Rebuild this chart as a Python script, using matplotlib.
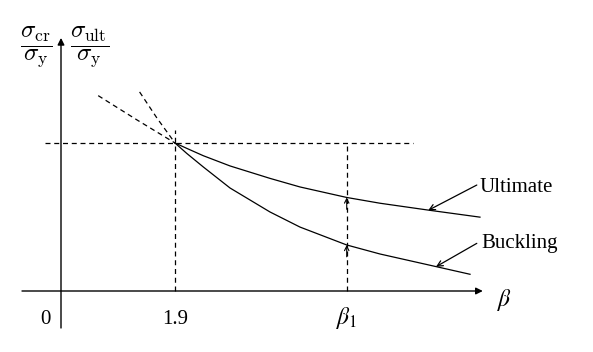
import matplotlib
matplotlib.use("Agg")
import matplotlib.pyplot as plt

# ---- data ----
beta_ultimate = [1.9, 2.095, 2.372, 2.817, 3.483, 3.983, 4.762, 5.317, 6.15, 6.983]
ratio_ultimate = [1.0, 0.964, 0.914, 0.845, 0.761, 0.703, 0.632, 0.593, 0.545, 0.499]
beta_buckling = [1.9, 2.095, 2.372, 2.817, 3.483, 3.983, 4.762, 5.317, 6.205, 6.817]
ratio_buckling = [1.0, 0.93, 0.838, 0.696, 0.534, 0.432, 0.311, 0.25, 0.169, 0.113]
beta_ultimate_ext = [0.62, 1.27, 1.9]
ratio_ultimate_ext = [1.32, 1.155, 1.0]
beta_buckling_ext = [1.31, 1.60, 1.9]
ratio_buckling_ext = [1.345, 1.168, 1.0]
beta_critical = 1.9
beta_1 = 4.762
ratio_yield = 1.0
tick_positions = [0, 1.9, 4.762]
tick_labels = ['0', '1.9', r'$\beta_1$']

plt.rcParams['font.family'] = ['Liberation Serif', 'DejaVu Serif']
plt.rcParams['mathtext.fontset'] = 'cm'

fig = plt.figure(figsize=(5.93, 3.52), dpi=100)
ax = fig.add_axes([0, 0, 1, 1])
ax.set_xlim(-61 / 60, 532 / 60)
ax.set_ylim(-61 / 148, 291 / 148)
ax.axis('off')

k = 'black'
# axes with arrows
ax.annotate('', xy=(7.03, 0), xytext=(-0.65, 0),
            arrowprops=dict(arrowstyle='-|>', color=k, lw=1.0, mutation_scale=10,
                            shrinkA=0, shrinkB=0))
ax.annotate('', xy=(0, 1.71), xytext=(0, -0.25),
            arrowprops=dict(arrowstyle='-|>', color=k, lw=1.0, mutation_scale=10,
                            shrinkA=0, shrinkB=0))

dash = (0, (4, 3))
# dashed reference lines
ax.plot([-0.27, 5.87], [ratio_yield, ratio_yield], color=k, lw=0.9, linestyle=dash)
ax.plot([beta_critical, beta_critical], [0, 1.09], color=k, lw=0.9, linestyle=dash)
ax.plot([beta_1, beta_1], [0, ratio_yield], color=k, lw=0.9, linestyle=dash)

# dashed extensions
ax.plot(beta_ultimate_ext, ratio_ultimate_ext, color=k, lw=0.9, linestyle=dash)
ax.plot(beta_buckling_ext, ratio_buckling_ext, color=k, lw=0.9, linestyle=dash)

# curves
ax.plot(beta_ultimate, ratio_ultimate, color=k, lw=0.9, solid_joinstyle='round')
ax.plot(beta_buckling, ratio_buckling, color=k, lw=0.9, solid_joinstyle='round')

# small arrows at beta_1
for yv in (ratio_ultimate[6], ratio_buckling[6]):
    ax.annotate('', xy=(beta_1, yv), xytext=(beta_1, yv - 0.08),
                arrowprops=dict(arrowstyle='->', color=k, lw=0.8, mutation_scale=8,
                                shrinkA=0, shrinkB=0))

# labels with arrows
ax.text(6.98, 0.671, 'Ultimate', fontsize=15, va='baseline', ha='left')
ax.annotate('', xy=(6.12, 0.545), xytext=(6.93, 0.716),
            arrowprops=dict(arrowstyle='->', color=k, lw=0.9, mutation_scale=10,
                            shrinkA=0, shrinkB=0))
ax.text(7.0, 0.289, 'Buckling', fontsize=15, va='baseline', ha='left')
ax.annotate('', xy=(6.25, 0.164), xytext=(6.93, 0.322),
            arrowprops=dict(arrowstyle='->', color=k, lw=0.9, mutation_scale=10,
                            shrinkA=0, shrinkB=0))

# tick labels
ax.text(-0.17, -0.223, tick_labels[0], fontsize=15, ha='right', va='baseline')
ax.text(tick_positions[1], -0.223, tick_labels[1], fontsize=15, ha='center', va='baseline')
ax.text(tick_positions[2], -0.223, tick_labels[2], fontsize=17, ha='center', va='baseline',
        math_fontfamily='stix')
ax.text(7.4, -0.06, r'$\beta$', fontsize=17, ha='center', va='center',
        math_fontfamily='stix')

# y-axis labels
ax.text(-0.42, 1.649, r'$\dfrac{\sigma_{\rm cr}}{\sigma_{\rm y}}$', fontsize=18,
        ha='center', va='center')
ax.text(0.48, 1.649, r'$\dfrac{\sigma_{\rm ult}}{\sigma_{\rm y}}$', fontsize=18,
        ha='center', va='center')

fig.savefig('out.png', dpi=100)
